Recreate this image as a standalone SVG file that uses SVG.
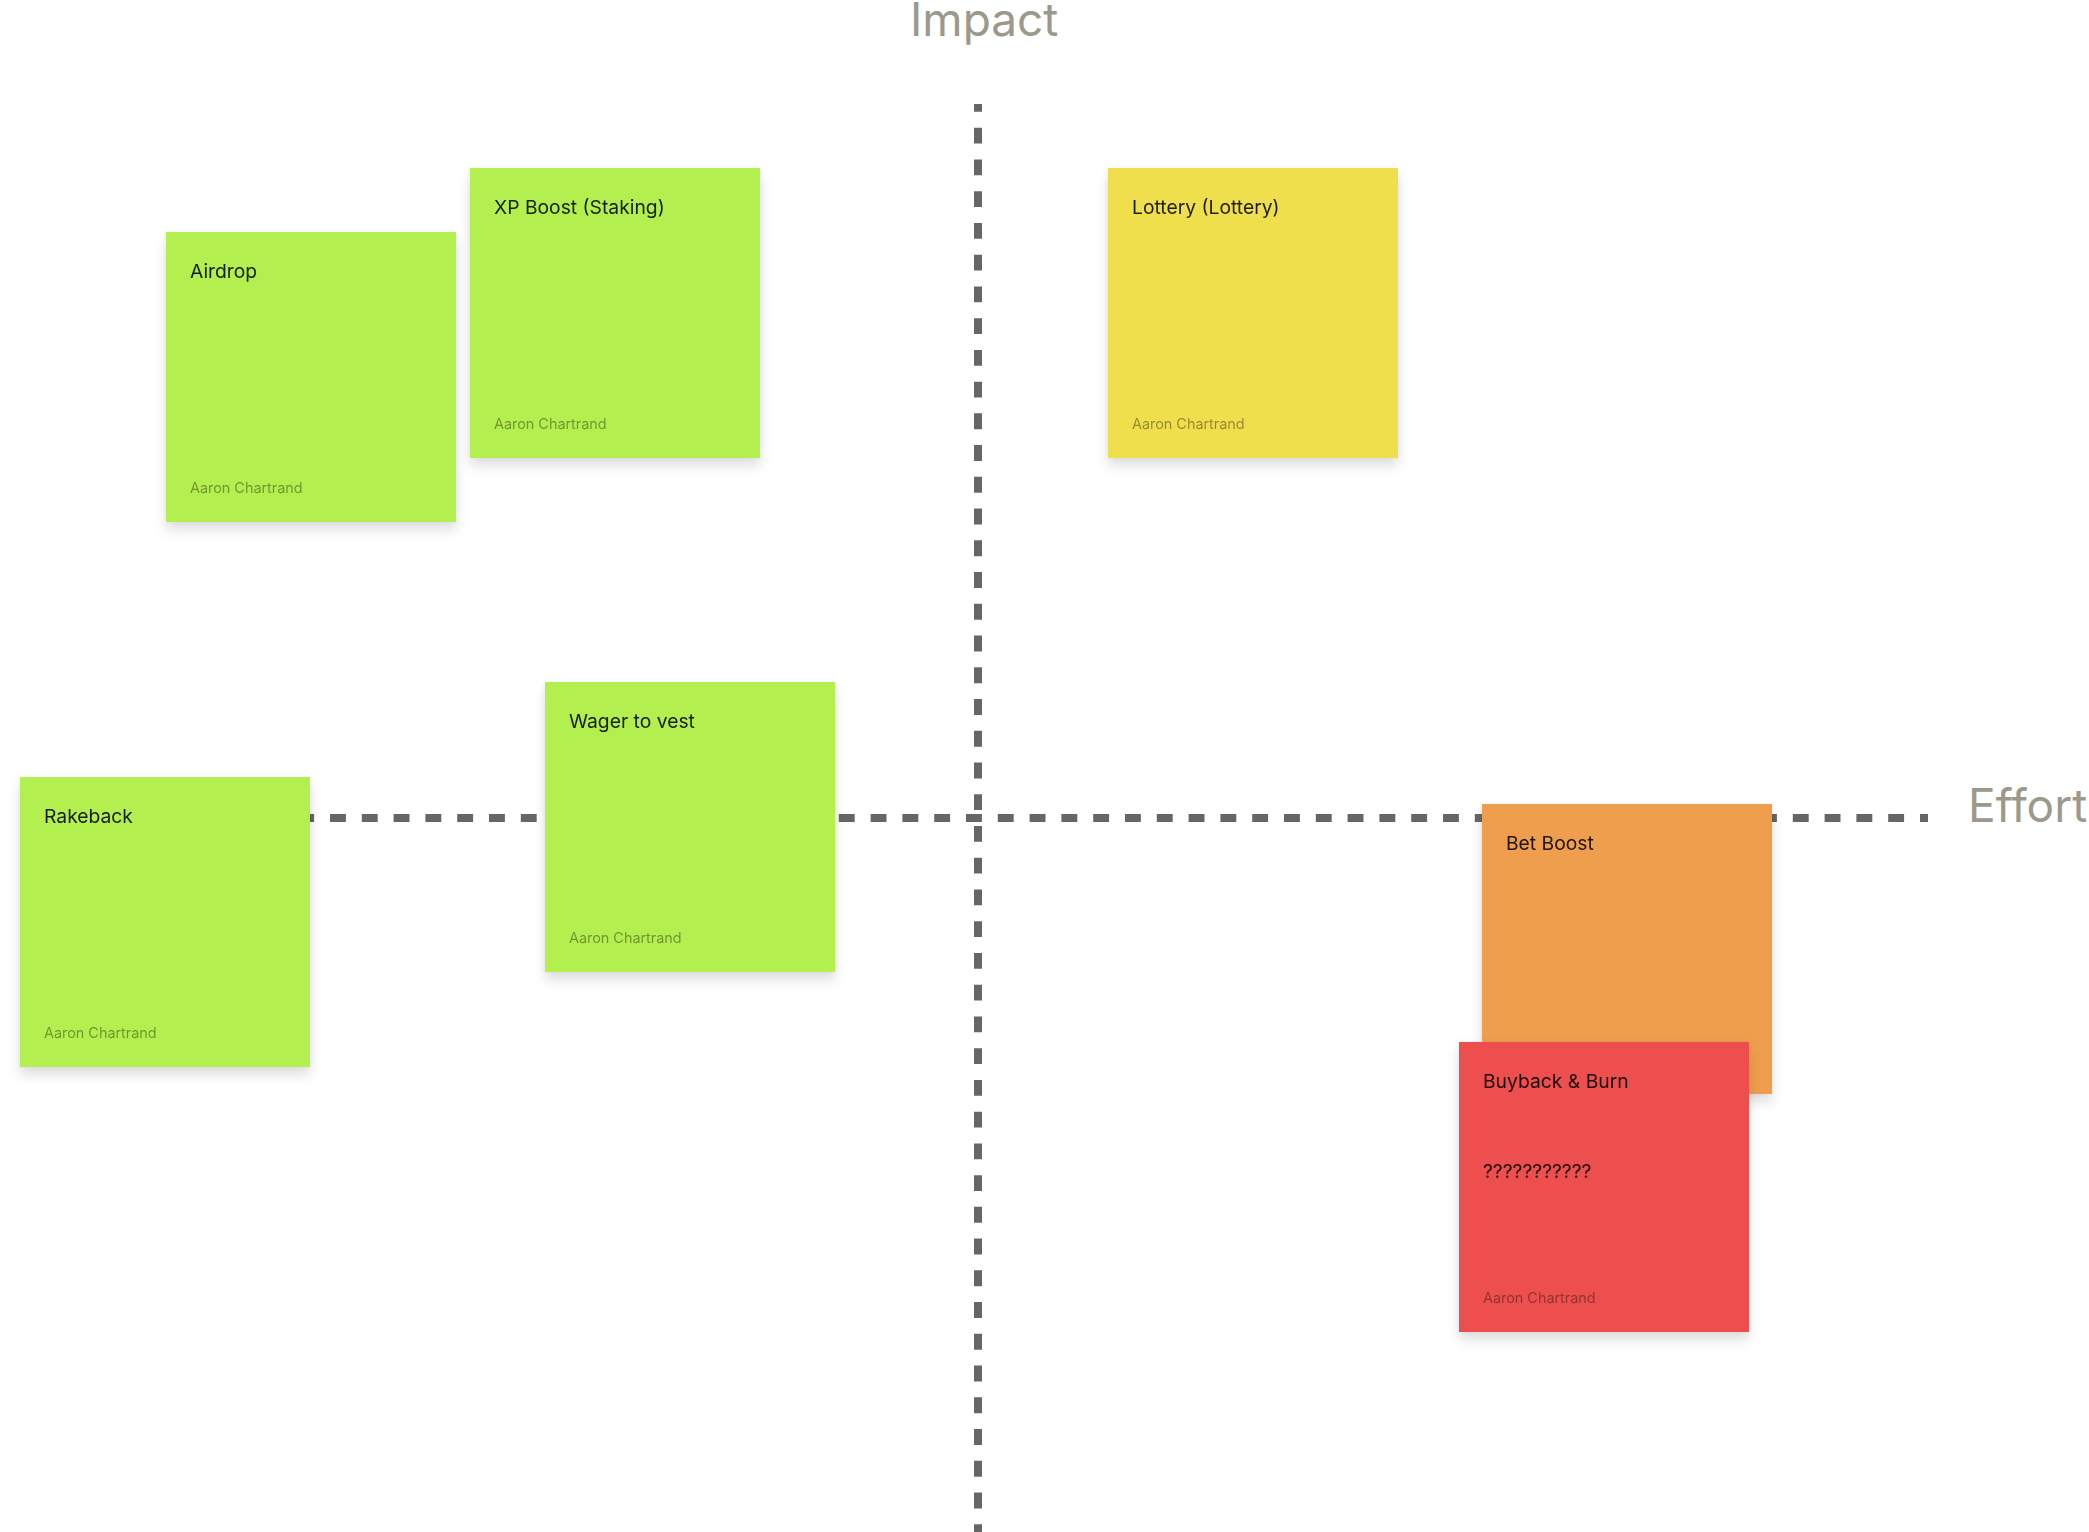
<svg xmlns="http://www.w3.org/2000/svg" width="2089" height="1532" viewBox="0 0 2089 1532">
<style>
.axis{stroke:#666666;stroke-width:8;fill:none}
.label{font-family:Inter,"Liberation Sans",sans-serif;font-size:46px;fill:#9B998C}
.title{font-family:Inter,"Liberation Sans",sans-serif;font-size:19.3px;fill:#000;fill-opacity:0.87}
.author{font-family:Inter,"Liberation Sans",sans-serif;font-size:14.4px;fill:#000;fill-opacity:0.38}
.green{fill:#B3EF4F}
.yellow{fill:#EFDF4D}
.orange{fill:#EE9E4D}
.red{fill:#ED4F4F}
</style>
<defs>
<filter id="shadow" x="-20%" y="-20%" width="140%" height="150%">
<feDropShadow dx="0" dy="0" stdDeviation="3" flood-color="#000" flood-opacity="0.05"/>
<feDropShadow dx="0" dy="8" stdDeviation="6" flood-color="#000" flood-opacity="0.12"/>
</filter>
</defs>
<rect width="2089" height="1532" fill="#FFFFFF"/>
<g id="connectors">
<line class="axis" x1="978" y1="104" x2="978" y2="1540" stroke-dasharray="15.87 15.87" stroke-dashoffset="8.03"/>
<line class="axis" x1="43.8" y1="818" x2="1928" y2="818" stroke-dasharray="15.9 15.9"/>
</g>
<text id="label-impact" class="label" x="910" y="36">Impact</text>
<text id="label-effort" class="label" x="1968" y="822">Effort</text>
<g id="note-airdrop" filter="url(#shadow)">
<rect class="green" x="166" y="232" width="290" height="290"/>
<text class="title" x="190" y="278">Airdrop</text>
<text class="author" x="190" y="493">Aaron Chartrand</text>
</g>
<g id="note-xp-boost" filter="url(#shadow)">
<rect class="green" x="470" y="168" width="290" height="290"/>
<text class="title" x="494" y="214">XP Boost (Staking)</text>
<text class="author" x="494" y="429">Aaron Chartrand</text>
</g>
<g id="note-lottery" filter="url(#shadow)">
<rect class="yellow" x="1108" y="168" width="290" height="290"/>
<text class="title" x="1132" y="214">Lottery (Lottery)</text>
<text class="author" x="1132" y="429">Aaron Chartrand</text>
</g>
<g id="note-wager" filter="url(#shadow)">
<rect class="green" x="545" y="682" width="290" height="290"/>
<text class="title" x="569" y="728">Wager to vest</text>
<text class="author" x="569" y="943">Aaron Chartrand</text>
</g>
<g id="note-rakeback" filter="url(#shadow)">
<rect class="green" x="20" y="777" width="290" height="290"/>
<text class="title" x="44" y="823">Rakeback</text>
<text class="author" x="44" y="1038">Aaron Chartrand</text>
</g>
<g id="note-bet-boost" filter="url(#shadow)">
<rect class="orange" x="1482" y="804" width="290" height="290"/>
<text class="title" x="1506" y="850">Bet Boost</text>
</g>
<g id="note-buyback" filter="url(#shadow)">
<rect class="red" x="1459" y="1042" width="290" height="290"/>
<text class="title" x="1483" y="1088">Buyback &amp; Burn</text>
<text class="title" x="1483" y="1177.5">???????????</text>
<text class="author" x="1483" y="1303">Aaron Chartrand</text>
</g>
</svg>
